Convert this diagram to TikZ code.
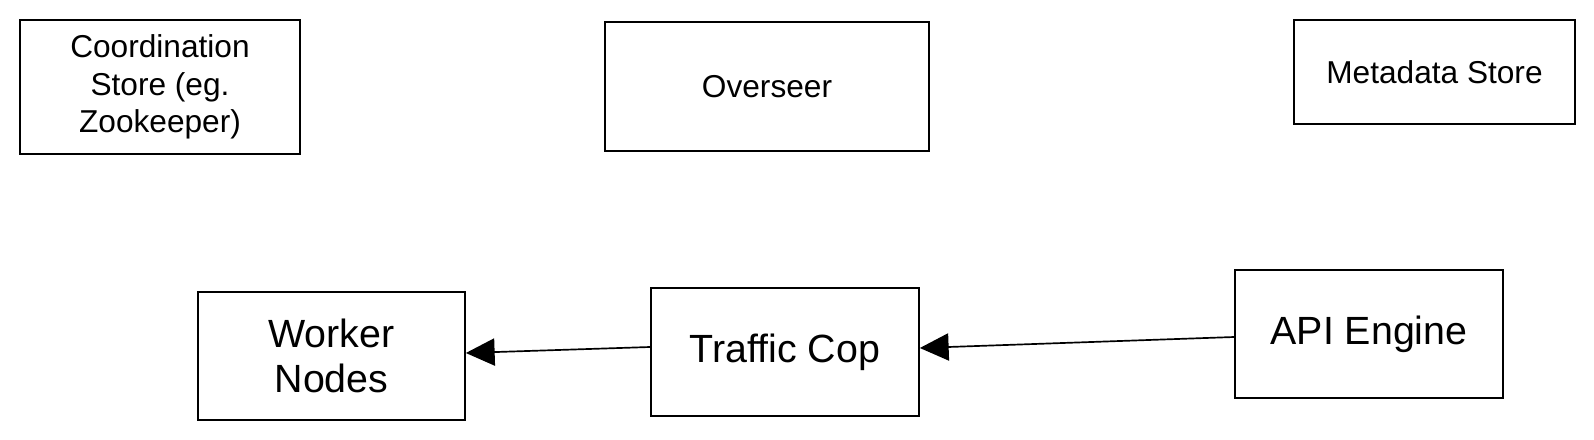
\documentclass[tikz,border=0pt]{standalone}
\usepackage{fontspec}
\setmainfont{Liberation Sans}
\usepackage{xcolor}
\usepackage{tikz}
\usetikzlibrary{shapes,arrows,arrows.meta,positioning}

\begin{document}
\begin{tikzpicture}[
    box/.style={rectangle, draw, line width=1.2pt, align=center, inner sep=0pt, font=\fontsize{22.5}{26.7}\selectfont},
    bigbox/.style={box, minimum width=6.7cm, minimum height=3.2cm, font=\fontsize{28}{32}\selectfont},
    arrow/.style={-{Triangle[length=0.72cm, width=0.68cm]}, line width=1.2pt}
]
    \useasboundingbox (0,0) rectangle (39.85,-11);

    % top row
    \node[box, minimum width=7cm, minimum height=3.35cm] (coord) at (4.0,-2.175) {Coordination\\Store (eg.\\Zookeeper)};
    \node[box, minimum width=8.1cm, minimum height=3.225cm] (overseer) at (19.175,-2.1625) {Overseer};
    \node[box, minimum width=7.025cm, minimum height=2.6cm] (meta) at (35.8625,-1.8) {Metadata Store};

    % bottom row
    \node[bigbox, minimum width=6.675cm] (worker) at (8.2875,-8.9) {Worker\\Nodes};
    \node[bigbox] (cop) at (19.625,-8.8) {Traffic Cop};
    \node[bigbox] (api) at (34.225,-8.35) {API Engine};

    % arrows
    \draw[arrow] ([yshift=-0.075cm]api.west) -- ([yshift=0.1cm]cop.east);
    \draw[arrow] ([yshift=0.125cm]cop.west) -- ([yshift=0.075cm]worker.east);
\end{tikzpicture}
\end{document}
